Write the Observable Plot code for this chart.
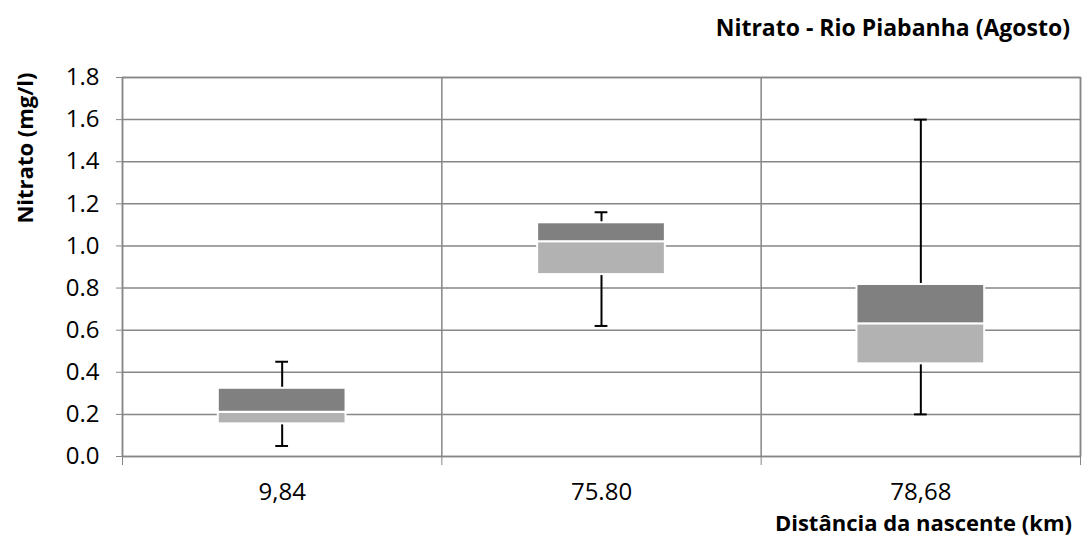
<!DOCTYPE html>
<html><head><meta charset="utf-8">
<script src="https://cdn.jsdelivr.net/npm/d3@7"></script>
<script src="https://cdn.jsdelivr.net/npm/@observablehq/plot@0.6"></script>
<style>
body{margin:0;background:#fff;font-family:"Open Sans",sans-serif;color:#000;}
#wrap{position:relative;width:1084px;height:537px;overflow:hidden;}
#title{position:absolute;right:14px;top:11px;font-weight:700;font-size:23px;line-height:32px;white-space:nowrap;}
#ylab{position:absolute;left:24px;top:148px;transform:translate(-50%,-50%) rotate(-90deg);font-weight:700;font-size:22px;line-height:26px;white-space:nowrap;}
#xlab{position:absolute;right:12px;top:507px;font-weight:700;font-size:22px;line-height:30px;white-space:nowrap;}
#chart{position:absolute;left:0;top:60px;}
#chart svg{font-family:"Open Sans",sans-serif;}
g[aria-label="box"], g[aria-label="whisker"], g[aria-label="cap"]{filter:drop-shadow(2px 3px 3px rgba(0,0,0,0.35));}
</style>
</head><body>
<div id="wrap">
<div id="title">Nitrato - Rio Piabanha (Agosto)</div>
<div id="ylab">Nitrato (mg/l)</div>
<div id="xlab">Distância da nascente (km)</div>
<div id="chart"></div>
</div>
<script>
const categories = ["9,84", "75.80", "78,68"];
const whiskerLow = [0.05, 0.62, 0.20];
const q1 = [0.155, 0.864, 0.44];
const median = [0.21, 1.02, 0.63];
const q3 = [0.324, 1.11, 0.817];
const whiskerHigh = [0.45, 1.16, 1.60];
const yTicks = [0, 0.2, 0.4, 0.6, 0.8, 1.0, 1.2, 1.4, 1.6, 1.8];

const rows = categories.map((c, i) => ({
  i, c, lo: whiskerLow[i], q1: q1[i], med: median[i], q3: q3[i], hi: whiskerHigh[i]
}));
const bounds = d3.range(categories.length + 1);
const centers = categories.map((c, i) => i + 0.5);
const grid = "#868686";

const chart = Plot.plot({
  width: 1084,
  height: 477,
  marginTop: 17,
  marginBottom: 81,
  marginLeft: 122,
  marginRight: 4,
  x: {type: "linear", domain: [0, categories.length]},
  y: {domain: [0, 1.8]},
  marks: [
    Plot.gridY(yTicks, {stroke: grid, strokeOpacity: 1, strokeWidth: 1.5}),
    Plot.gridX(bounds, {stroke: grid, strokeOpacity: 1, strokeWidth: 1.5}),
    Plot.frame({stroke: grid, strokeWidth: 1.5}),
    Plot.ruleX(rows, {x: d => d.i + 0.5, y1: "lo", y2: "hi", stroke: "#000", strokeWidth: 2, ariaLabel: "whisker"}),
    Plot.ruleY(rows, {y: "hi", x1: d => d.i + 0.48, x2: d => d.i + 0.52, stroke: "#000", strokeWidth: 2, ariaLabel: "cap"}),
    Plot.ruleY(rows, {y: "lo", x1: d => d.i + 0.48, x2: d => d.i + 0.52, stroke: "#000", strokeWidth: 2, ariaLabel: "cap"}),
    Plot.rect(rows, {x1: d => d.i + 0.3, x2: d => d.i + 0.7, y1: "q1", y2: "med", fill: "#b2b2b2", stroke: "#fff", strokeWidth: 2, ariaLabel: "box"}),
    Plot.rect(rows, {x1: d => d.i + 0.3, x2: d => d.i + 0.7, y1: "med", y2: "q3", fill: "#808080", stroke: "#fff", strokeWidth: 2, ariaLabel: "box"}),
    Plot.axisY(yTicks, {tickFormat: d => d.toFixed(1), tickSize: 6, tickPadding: 17, fontSize: 24, stroke: grid, fill: "#000", label: null}),
    Plot.axisX(bounds, {tickFormat: () => "", tickSize: 9, stroke: grid, label: null}),
    Plot.axisX(centers, {tickFormat: d => categories[Math.floor(d)], tickSize: 0, tickPadding: 26, fontSize: 24, fill: "#000", label: null})
  ]
});
document.getElementById("chart").appendChild(chart);
</script>
</body></html>
